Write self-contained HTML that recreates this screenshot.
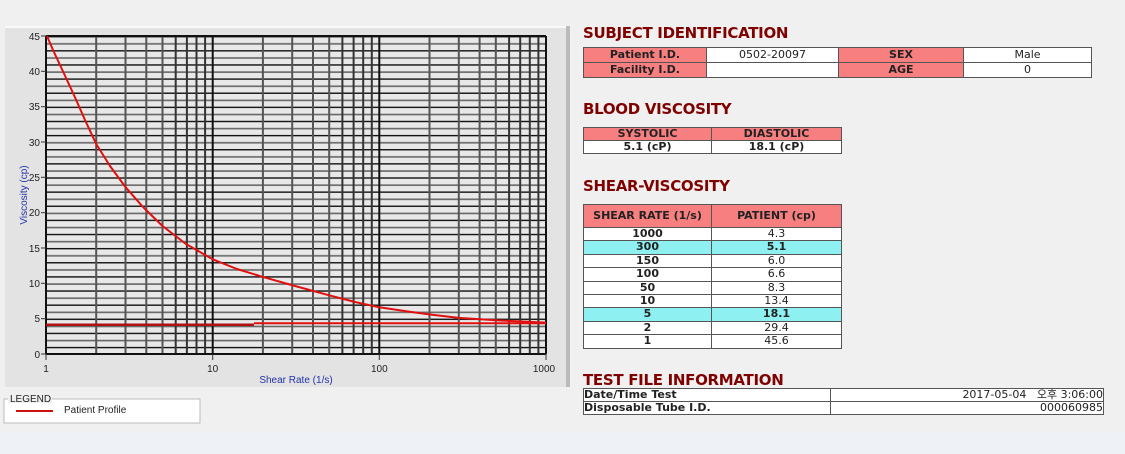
<!DOCTYPE html>
<html><head><meta charset="utf-8"><style>
body{margin:0;width:1125px;height:454px;background:#f0f0f0;position:relative;overflow:hidden;font-family:Verdana,"DejaVu Sans","Noto Sans CJK KR",sans-serif}
.bot{position:absolute;left:0;top:432px;width:1125px;height:22px;background:#eef2f7}
.h{position:absolute;left:583px;color:#800000;font-weight:bold;font-size:15px;font-family:"DejaVu Sans",Verdana,sans-serif;letter-spacing:-0.3px}
table{position:absolute;border-collapse:collapse;font-size:11px;font-family:"DejaVu Sans",Verdana,sans-serif}
td{border:1px solid #555;padding:0;text-align:center;height:14px;line-height:14px;background:#fff;color:#222}
td.r{background:#f77f7f;font-weight:bold;color:#222}
td.c{background:#8ef0f0;font-weight:bold}
.b td{font-weight:bold}
.s td{height:12.4px;line-height:12.4px}
</style></head><body>
<div class="bot"></div>
<svg style="position:absolute;left:0;top:0" width="575" height="432">
<defs><pattern id="hp" x="0" y="36" width="10" height="14.13" patternUnits="userSpaceOnUse">
<rect width="10" height="1.4" y="0" fill="#111"/><rect width="10" height="1.6" y="7.07" fill="#666"/></pattern></defs>
<rect x="5" y="26" width="565" height="361" fill="#e3e3e3"/>
<rect x="5" y="26" width="565" height="2" fill="#fafafa"/>
<rect x="566" y="26" width="4" height="361" fill="#bbb"/>
<rect x="46" y="36" width="500" height="318" fill="#e8e8e8"/>
<rect x="46" y="36" width="500" height="318" fill="url(#hp)"/>
<g stroke="#333" stroke-width="2">
<line x1="96.2" y1="36" x2="96.2" y2="354" stroke="#555"/><line x1="125.5" y1="36" x2="125.5" y2="354" stroke="#555"/><line x1="146.3" y1="36" x2="146.3" y2="354" stroke="#555"/><line x1="162.5" y1="36" x2="162.5" y2="354" stroke="#555"/><line x1="175.7" y1="36" x2="175.7" y2="354"/><line x1="186.9" y1="36" x2="186.9" y2="354"/><line x1="196.5" y1="36" x2="196.5" y2="354"/><line x1="205.1" y1="36" x2="205.1" y2="354"/><line x1="212.7" y1="36" x2="212.7" y2="354" stroke="#111"/>
<line x1="262.9" y1="36" x2="262.9" y2="354" stroke="#555"/><line x1="292.2" y1="36" x2="292.2" y2="354" stroke="#555"/><line x1="313" y1="36" x2="313" y2="354" stroke="#555"/><line x1="329.2" y1="36" x2="329.2" y2="354" stroke="#555"/><line x1="342.4" y1="36" x2="342.4" y2="354"/><line x1="353.6" y1="36" x2="353.6" y2="354"/><line x1="363.2" y1="36" x2="363.2" y2="354"/><line x1="371.8" y1="36" x2="371.8" y2="354"/><line x1="379.3" y1="36" x2="379.3" y2="354" stroke="#111"/>
<line x1="429.5" y1="36" x2="429.5" y2="354" stroke="#555"/><line x1="458.8" y1="36" x2="458.8" y2="354" stroke="#555"/><line x1="479.6" y1="36" x2="479.6" y2="354" stroke="#555"/><line x1="495.8" y1="36" x2="495.8" y2="354" stroke="#555"/><line x1="509.1" y1="36" x2="509.1" y2="354"/><line x1="520.2" y1="36" x2="520.2" y2="354"/><line x1="529.8" y1="36" x2="529.8" y2="354"/><line x1="538.4" y1="36" x2="538.4" y2="354"/><line x1="546" y1="36" x2="546" y2="354" stroke="#111"/>
<line x1="46" y1="36" x2="546" y2="36" stroke="#111"/><line x1="46" y1="354" x2="546" y2="354" stroke="#111"/><line x1="46" y1="36" x2="46" y2="354" stroke="#111"/>
</g>
<g stroke="#333" stroke-width="1">
<line x1="41" y1="36" x2="46" y2="36"/><line x1="41" y1="71.3" x2="46" y2="71.3"/><line x1="41" y1="106.7" x2="46" y2="106.7"/><line x1="41" y1="142" x2="46" y2="142"/><line x1="41" y1="177.3" x2="46" y2="177.3"/><line x1="41" y1="212.7" x2="46" y2="212.7"/><line x1="41" y1="248" x2="46" y2="248"/><line x1="41" y1="283.3" x2="46" y2="283.3"/><line x1="41" y1="318.7" x2="46" y2="318.7"/><line x1="41" y1="354" x2="46" y2="354"/>
<line x1="46" y1="354" x2="46" y2="360"/><line x1="212.7" y1="354" x2="212.7" y2="360"/><line x1="379.3" y1="354" x2="379.3" y2="360"/><line x1="546" y1="354" x2="546" y2="360"/>
</g>
<g font-family="Liberation Sans,sans-serif" font-size="10" fill="#222" text-anchor="end">
<text x="40" y="40">45</text><text x="40" y="75">40</text><text x="40" y="110">35</text><text x="40" y="146">30</text><text x="40" y="181">25</text><text x="40" y="216">20</text><text x="40" y="252">15</text><text x="40" y="287">10</text><text x="40" y="322">5</text><text x="40" y="358">0</text>
</g>
<g font-family="Liberation Sans,sans-serif" font-size="10" fill="#222" text-anchor="middle">
<text x="46" y="372">1</text><text x="212.7" y="372">10</text><text x="379.3" y="372">100</text><text x="544" y="372">1000</text>
</g>
<text x="296" y="383" font-family="Liberation Sans,sans-serif" font-size="10" fill="#2233aa" text-anchor="middle">Shear Rate (1/s)</text>
<text transform="translate(27,195) rotate(-90)" font-family="Liberation Sans,sans-serif" font-size="10" fill="#2233aa" text-anchor="middle">Viscosity (cp)</text>
<line x1="46" y1="324.8" x2="254" y2="324.8" stroke="#b01010" stroke-width="2.5"/>
<line x1="254" y1="323.3" x2="546" y2="323.3" stroke="#e01010" stroke-width="2"/>
<polyline fill="none" stroke="#e01010" stroke-width="2" stroke-linejoin="round" points="47,36 53,50 60,65 67,80 75.3,98 85,120 96.2,144 110,166 125.5,187.1 143,207 162.5,226 186,244 212.7,259.3 237,269 262.9,276.9 295,286 329.2,295.3 355,302 379.3,307.3 408.7,311.6 430,314.5 458.8,317.9 500,320.5 546,322.6"/>
<rect x="4" y="399" width="196" height="24" fill="#fff" stroke="#bbb"/>
<rect x="8" y="393" width="44" height="10" fill="#f0f0f0"/>
<text x="10" y="402" font-family="Liberation Sans,sans-serif" font-size="10" fill="#222">LEGEND</text>
<line x1="16" y1="411" x2="53" y2="411" stroke="#cc1010" stroke-width="2"/>
<text x="64" y="413" font-family="Liberation Sans,sans-serif" font-size="10" fill="#222">Patient Profile</text>
</svg>

<div class="h" style="top:24px">SUBJECT IDENTIFICATION</div>
<table style="left:583px;top:47px;width:509px">
<tr><td class="r" style="width:122px">Patient I.D.</td><td style="width:131px">0502-20097</td><td class="r" style="width:124px">SEX</td><td>Male</td></tr>
<tr><td class="r">Facility I.D.</td><td></td><td class="r">AGE</td><td>0</td></tr>
</table>

<div class="h" style="top:100px">BLOOD VISCOSITY</div>
<table style="left:583px;top:127px;width:259px">
<tr><td class="r" style="width:127px;height:12px;line-height:12px">SYSTOLIC</td><td class="r" style="height:12px;line-height:12px">DIASTOLIC</td></tr>
<tr class="b"><td style="height:12px;line-height:12px">5.1 (cP)</td><td style="height:12px;line-height:12px">18.1 (cP)</td></tr>
</table>

<div class="h" style="top:177px">SHEAR-VISCOSITY</div>
<table class="s" style="left:583px;top:204px;width:259px">
<tr><td class="r" style="width:127px;height:22px;line-height:22px">SHEAR RATE (1/s)</td><td class="r" style="height:22px;line-height:22px">PATIENT (cp)</td></tr>
<tr><td style="font-weight:bold">1000</td><td>4.3</td></tr>
<tr><td class="c">300</td><td class="c">5.1</td></tr>
<tr><td style="font-weight:bold">150</td><td>6.0</td></tr>
<tr><td style="font-weight:bold">100</td><td>6.6</td></tr>
<tr><td style="font-weight:bold">50</td><td>8.3</td></tr>
<tr><td style="font-weight:bold">10</td><td>13.4</td></tr>
<tr><td class="c">5</td><td class="c">18.1</td></tr>
<tr><td style="font-weight:bold">2</td><td>29.4</td></tr>
<tr><td style="font-weight:bold">1</td><td>45.6</td></tr>
</table>

<div class="h" style="top:371px">TEST FILE INFORMATION</div>
<table style="left:583px;top:388px;width:521px">
<tr><td style="width:246px;text-align:left;font-weight:bold;height:12px;line-height:12px">Date/Time Test</td><td style="text-align:right;height:12px;line-height:12px">2017-05-04&nbsp;&nbsp; 오후 3:06:00</td></tr>
<tr><td style="text-align:left;font-weight:bold;height:12px;line-height:12px">Disposable Tube I.D.</td><td style="text-align:right;height:12px;line-height:12px">000060985</td></tr>
</table>
</body></html>
